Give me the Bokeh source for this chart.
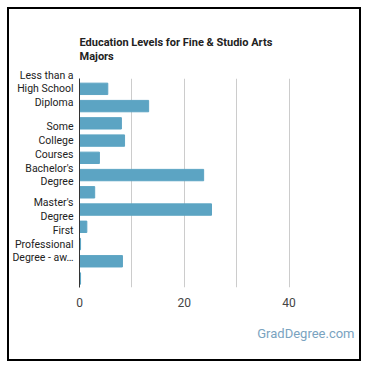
from bokeh.plotting import figure
from bokeh.models import Range1d, FixedTicker, Title
from bokeh.embed import file_html
from bokeh.resources import INLINE

categories = ["Less than a High School Diploma", "High School Diploma",
              "Post-Secondary Certificate", "Some College Courses",
              "Associate's Degree", "Bachelor's Degree",
              "Post-Baccalaureate Certificate", "Master's Degree",
              "Post-Master's Certificate", "First Professional Degree",
              "Doctoral Degree", "Post-Doctoral Training"]
values = [5.4, 13.2, 8.0, 8.6, 3.8, 23.7, 2.9, 25.2, 1.4, 0.2, 8.2, 0.2]
shown_labels = {0: "Less than a\nHigh School\nDiploma",
                3: "Some\nCollege\nCourses",
                5: "Bachelor's\nDegree",
                7: "Master's\nDegree",
                9: "First\nProfessional\nDegree - aw\u2026"}
x_ticks = [0, 20, 40]
grid_ticks = [10, 20, 30, 40]

idx = list(range(len(categories)))

p = figure(width=350, height=350, output_backend="svg", toolbar_location=None,
           x_range=Range1d(0, 52.5), y_range=Range1d(len(categories) - 0.48, -0.6),
           min_border_left=70, min_border_right=5, min_border_bottom=71,
           min_border_top=69,
           styles={"position": "absolute", "left": "9px", "top": "9px",
                   "box-shadow": "0 0 0 2px #000000"})

p.hbar(y=idx, right=values, left=0, height=0.66, color="#5ca4c3")

t = Title(text="Education Levels for Fine & Studio Arts\nMajors", align="left",
          text_font="Roboto", text_font_size="11px", text_font_style="bold",
          text_color="#222222", standoff=30, text_line_height=1.15)
p.add_layout(t, "above")
p.title.visible = False

wm = Title(text="GradDegree.com", align="right", offset=0, standoff=33,
           vertical_align="top",
           text_font="Roboto", text_font_size="13px", text_font_style="normal",
           text_color="#7aa3bf")
p.add_layout(wm, "below")

p.xaxis.ticker = FixedTicker(ticks=x_ticks)
p.xgrid.ticker = FixedTicker(ticks=grid_ticks)
p.xgrid.grid_line_color = "#cccccc"
p.ygrid.visible = False
p.xaxis.axis_line_color = None
p.xaxis.major_tick_line_color = None
p.xaxis.minor_tick_line_color = None
p.xaxis.major_label_text_font = "Roboto"
p.xaxis.major_label_text_font_size = "12px"
p.xaxis.major_label_text_color = "#444444"
p.xaxis.major_label_standoff = 4
p.xaxis.axis_label_standoff = 0

p.yaxis.ticker = FixedTicker(ticks=list(shown_labels.keys()))
p.yaxis.major_label_overrides = shown_labels
p.yaxis.axis_line_color = "#333333"
p.yaxis.major_tick_line_color = None
p.yaxis.minor_tick_line_color = None
p.yaxis.major_label_text_font = "Roboto"
p.yaxis.major_label_text_font_size = "10.5px"
p.yaxis.major_label_text_color = "#222222"
p.yaxis.major_label_text_line_height = 1.05
p.yaxis.major_label_standoff = 0
p.yaxis.axis_label_standoff = 0

p.outline_line_color = None

open("out.html", "w").write(file_html(p, INLINE))
